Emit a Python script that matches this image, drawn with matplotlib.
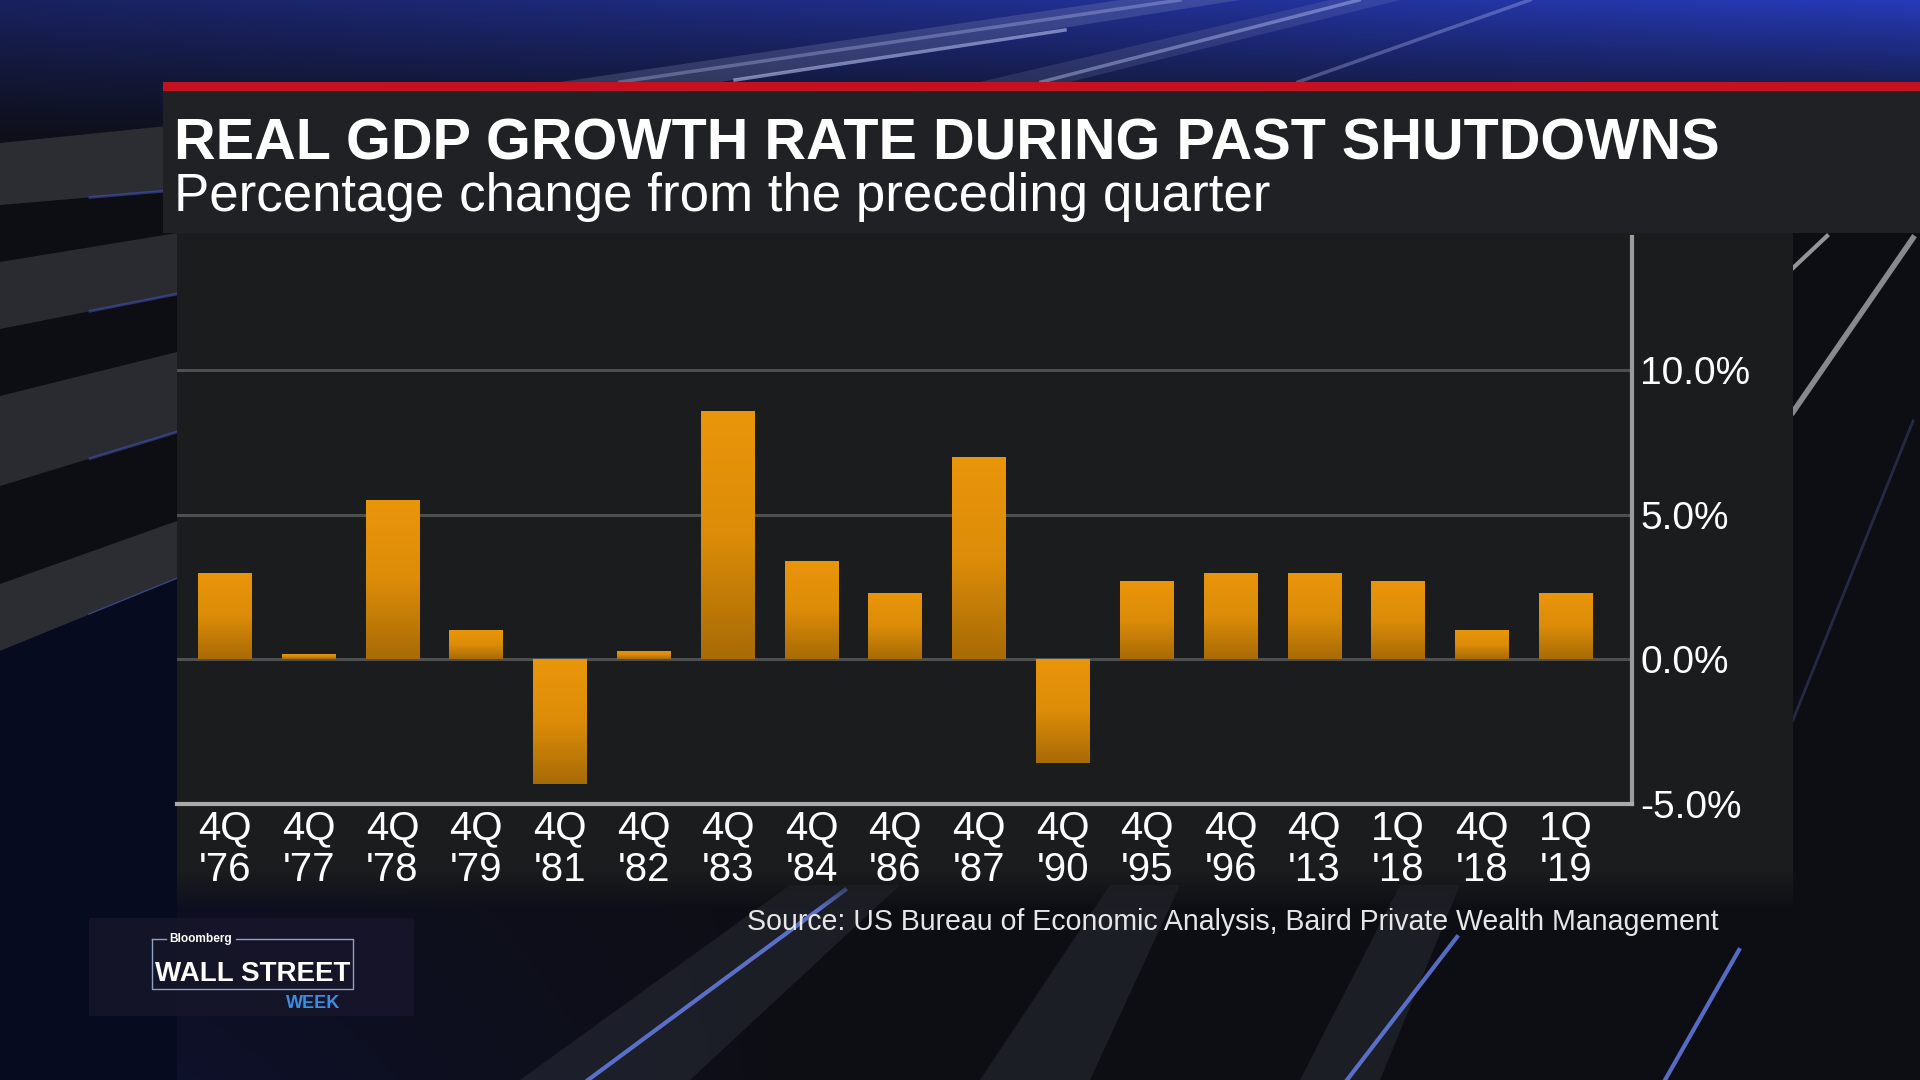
'''
Wall Street Week style bar chart: real GDP growth in quarters
that had a US government shutdown.
'''
import numpy as np
import matplotlib
matplotlib.use("Agg")
import matplotlib.pyplot as plt
from matplotlib import font_manager
from matplotlib.colors import LinearSegmentedColormap
from matplotlib.patches import Rectangle, Polygon

# Values
quarters = ["4Q", "4Q", "4Q", "4Q", "4Q", "4Q", "4Q", "4Q", "4Q", "4Q",
            "4Q", "4Q", "4Q", "4Q", "1Q", "4Q", "1Q"]
years = ["'76", "'77", "'78", "'79", "'81", "'82", "'83", "'84", "'86", "'87",
         "'90", "'95", "'96", "'13", "'18", "'18", "'19"]
growth = [3.0, 0.2, 5.5, 1.0, -4.3, 0.3, 8.6, 3.4, 2.3, 7.0,
          -3.6, 2.7, 3.0, 3.0, 2.7, 1.0, 2.3]
y_ticks = [-5, 0, 5, 10]
y_labels = ["-5.0%", "0.0%", "5.0%", "10.0%"]

TITLE = "REAL GDP GROWTH RATE DURING PAST SHUTDOWNS"
SUBTITLE = "Percentage change from the preceding quarter"
SOURCE = "Source: US Bureau of Economic Analysis, Baird Private Wealth Management"

W, H = 1920, 1080
installed = {f.name for f in font_manager.fontManager.ttflist}
NARROW = "Liberation Sans Narrow" if "Liberation Sans Narrow" in installed else "Liberation Sans"
SANS = "Liberation Sans"

fig = plt.figure(figsize=(W / 100, H / 100), dpi=100)

# full-figure axes in pixel coordinates for the backdrop and decorations
bg = fig.add_axes([0, 0, 1, 1])
bg.set_xlim(0, W)
bg.set_ylim(H, 0)
bg.axis("off")

yy, xx = np.mgrid[0:H, 0:W].astype(float)
img = np.zeros((H, W, 3)) + np.array([13, 14, 20]) / 255
glow = np.clip(1 - yy / 150, 0, 1) ** 1.1 * (0.45 + 0.55 * xx / W)
img += glow[..., None] * np.array([26, 44, 165]) / 255
haze = np.clip((yy - 620) / 460, 0, 1) * np.clip(1 - xx / 800, 0, 1)
img += haze[..., None] * np.array([0, 4, 28]) / 255
bg.imshow(np.clip(img, 0, 1), extent=(0, W, H, 0), aspect="auto", zorder=0)

# studio streaks at the top
bg.add_patch(Polygon([(560, 82), (720, 82), (1240, 0), (1120, 0)],
                     color="#8e96bb", alpha=0.25, lw=0, zorder=1))
bg.add_patch(Polygon([(980, 82), (1070, 82), (1400, 0), (1330, 0)],
                     color="#8e96bb", alpha=0.18, lw=0, zorder=1))
for (x0, y0, x1, y1, a) in [(735, 80, 1065, 30, 0.55), (1041, 82, 1359, 0, 0.4),
                            (1298, 82, 1530, 0, 0.3), (620, 82, 1180, 0, 0.3)]:
    bg.plot([x0, x1], [y0, y1], color="#c9d2ff", lw=2.5, alpha=a, zorder=1)

# slanted grey bands on the left
for top_l, bot_l, top_r, bot_r, c in [(143, 205, 125, 190, "#2c2d33"),
                                      (262, 329, 233, 294, "#2a2b30"),
                                      (396, 486, 352, 432, "#2a2b30"),
                                      (584, 651, 521, 579, "#2c2d33")]:
    bg.add_patch(Polygon([(0, top_l), (177, top_r), (177, bot_r), (0, bot_l)],
                         color=c, lw=0, zorder=1))
    bg.plot([90, 177], [bot_l - (bot_l - bot_r) * 90 / 177, bot_r],
            color="#4a5cc8", lw=2, alpha=0.5, zorder=1)
bg.add_patch(Polygon([(0, 651), (177, 579), (177, 1080), (0, 1080)],
                     color="#070b1f", lw=0, zorder=1))

# light lines on the right of the panel
bg.plot([1793, 1827], [268, 236], color="#b8b8bc", lw=3, alpha=0.8, zorder=1)
bg.plot([1793, 1913], [412, 238], color="#a8a8ae", lw=4, alpha=0.8, zorder=1)
bg.plot([1793, 1913], [720, 421], color="#5060a0", lw=2, alpha=0.35, zorder=1)

# streaks at the bottom
for pts in [[(520, 1080), (690, 1080), (900, 885), (790, 885)],
            [(980, 1080), (1090, 1080), (1180, 885), (1110, 885)],
            [(1300, 1080), (1380, 1080), (1460, 885), (1400, 885)]]:
    bg.add_patch(Polygon(pts, color="#3a3c48", alpha=0.35, lw=0, zorder=1))
for (x0, y0, x1, y1) in [(588, 1080, 845, 890), (1347, 1080, 1457, 937),
                         (1665, 1080, 1739, 950)]:
    bg.plot([x0, x1], [y0, y1], color="#6f8bff", lw=3, alpha=0.75, zorder=1)

# chart panel, header and red rule
bg.add_patch(Rectangle((177, 233), 1793 - 177, 870 - 233, color="#1b1c1d", lw=0, zorder=2))
fade = np.zeros((40, 1, 4))
fade[..., :3] = np.array([27, 28, 29]) / 255
fade[:, 0, 3] = np.linspace(1, 0, 40)
bg.imshow(fade, extent=(177, 1793, 910, 870), aspect="auto", zorder=2)
bg.add_patch(Rectangle((163, 91), W - 163, 233 - 91, color="#202124", lw=0, zorder=2))
bg.add_patch(Rectangle((163, 82), W - 163, 9, color="#c3111f", lw=0, zorder=2))
bg.set_xlim(0, W)
bg.set_ylim(H, 0)

renderer = fig.canvas.get_renderer()


def fit(t, width):
    '''Scale a text so its rendered width matches width pixels.'''
    bb = t.get_window_extent(renderer=renderer)
    t.set_fontsize(t.get_fontsize() * width / bb.width)


t = bg.text(174, 159, TITLE, color="white", fontsize=40, fontweight="bold",
            family=[NARROW, "DejaVu Sans"], va="baseline", ha="left", zorder=5)
fit(t, 1545)
t = bg.text(174, 211, SUBTITLE, color="white", fontsize=30,
            family=[SANS, "DejaVu Sans"], va="baseline", ha="left", zorder=5)
fit(t, 1095)
t = bg.text(1719, 930, SOURCE, color="#e6e6e6", fontsize=16,
            family=[SANS, "DejaVu Sans"], va="baseline", ha="right", zorder=5)
fit(t, 975)

# Wall Street Week logo
bg.add_patch(Rectangle((89, 918), 325, 98, color="#17162a", alpha=0.85, lw=0, zorder=3))
edge = dict(color="#8ea2c6", lw=1, zorder=4)
bg.plot([152, 166], [939, 939], **edge)
bg.plot([236, 353, 353, 152, 152], [939, 939, 989, 989, 939], **edge)
t = bg.text(169, 939, "Bloomberg", color="white", fontsize=8, fontweight="bold",
            family=[SANS], va="center", ha="left", zorder=5)
fit(t, 63)
t = bg.text(155, 981, "WALL STREET", color="white", fontsize=24, fontweight="bold",
            family=[NARROW], va="baseline", ha="left", zorder=5)
fit(t, 195)
t = bg.text(286, 1008, "WEEK", color="#3b8fe3", fontsize=14, fontweight="bold",
            family=[NARROW], va="baseline", ha="left", zorder=5)
fit(t, 54)

# chart
left, right, top, bottom = 177, 1632, 237, 804
ax = fig.add_axes([left / W, 1 - bottom / H, (right - left) / W, (bottom - top) / H])
ax.set_facecolor("none")

x = np.arange(len(growth))
bars = ax.bar(x, growth, width=0.64, color="none", lw=0, zorder=3)
cmap = LinearSegmentedColormap.from_list("bar", ["#ea960b", "#dc8c08", "#a86b06"])
grad = np.linspace(0, 1, 256).reshape(-1, 1)
for b in bars:
    x0, w = b.get_x(), b.get_width()
    lo, hi = sorted([b.get_y(), b.get_y() + b.get_height()])
    im = ax.imshow(grad, cmap=cmap, extent=(x0, x0 + w, lo, hi),
                   aspect="auto", origin="upper", zorder=3)
    im.set_clip_path(b)

ax.set_xlim(-0.57, len(growth) - 0.21)
ax.set_ylim(-5, 14.6)
ax.set_yticks(y_ticks, y_labels)
ax.set_xticks(x, [f"{q}\n{y}" for q, y in zip(quarters, years)])
ax.yaxis.tick_right()
ax.yaxis.grid(True, color="#4e4f51", lw=2.2, zorder=1)
ax.set_axisbelow(True)
for s in ("top", "left"):
    ax.spines[s].set_visible(False)
ax.spines["bottom"].set_color("#aaaaaa")
ax.spines["bottom"].set_linewidth(3)
ax.spines["right"].set_color("#9c9c9c")
ax.spines["right"].set_linewidth(3)
ax.spines["bottom"].set_zorder(4)
ax.tick_params(axis="y", length=0, pad=6, labelsize=28, labelcolor="white")
ax.tick_params(axis="x", length=0, pad=4, labelsize=29, labelcolor="white")
for lab in ax.get_yticklabels() + ax.get_xticklabels():
    lab.set_family([SANS, "DejaVu Sans"])
for lab in ax.get_xticklabels():
    lab.set_linespacing(1.13)

fig.savefig("out.png", dpi=100)
